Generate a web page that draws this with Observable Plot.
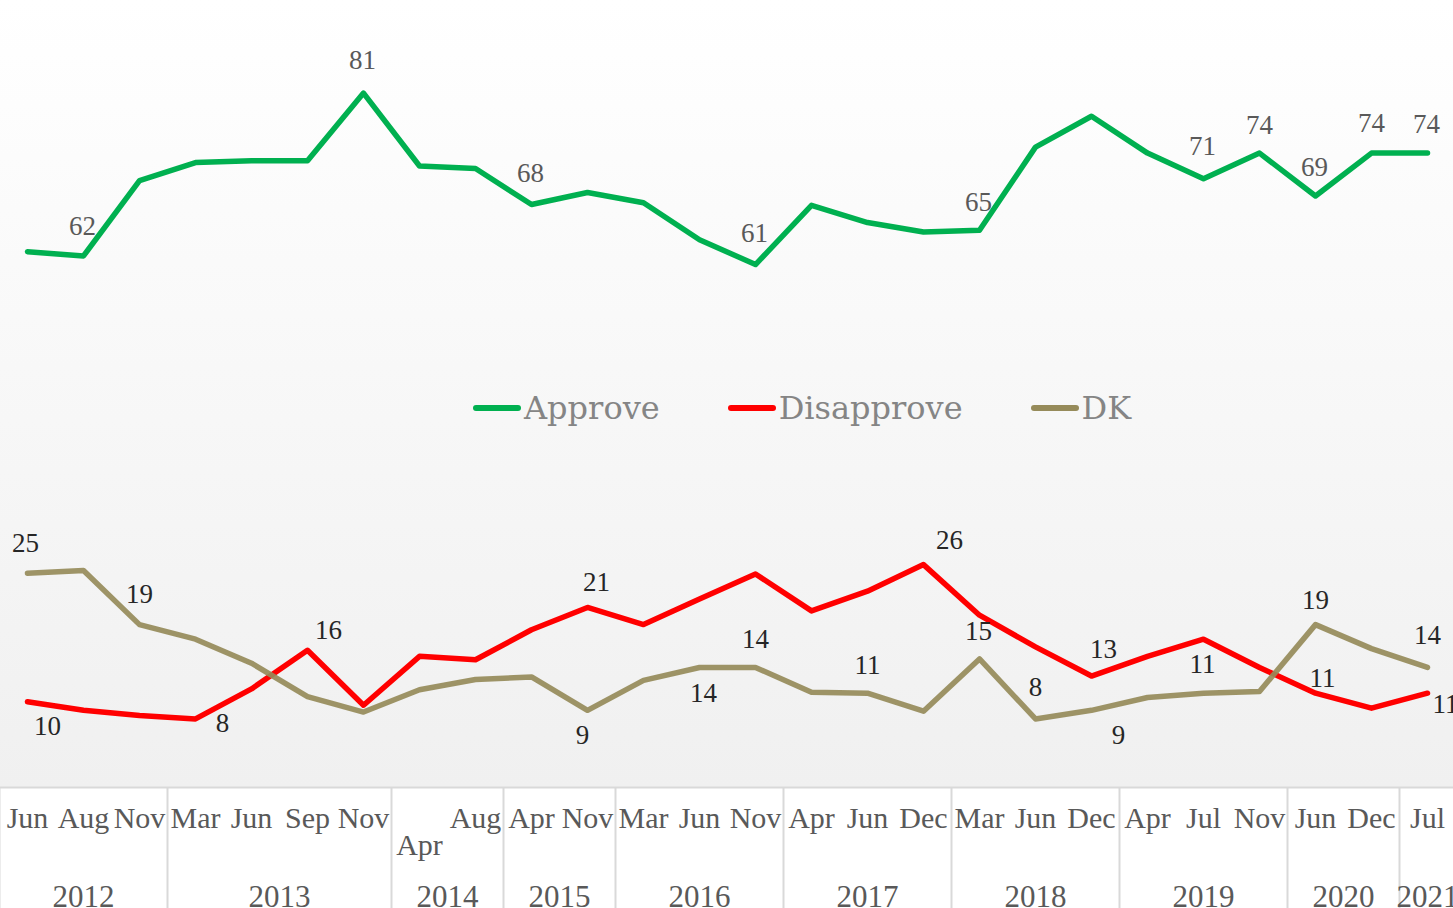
<!DOCTYPE html>
<html>
<head>
<meta charset="utf-8">
<script src="https://cdn.jsdelivr.net/npm/d3@7"></script>
<script src="https://cdn.jsdelivr.net/npm/@observablehq/plot@0.6"></script>
<style>
  html, body { margin: 0; padding: 0; overflow: hidden; background: #ffffff; }
  #chart {
    position: relative;
    width: 1453px;
    height: 908px;
    background: linear-gradient(to bottom, #ffffff 0px, #f0f0f0 787px, #ffffff 787px);
  }
  #legend {
    position: absolute;
    top: 388px;
    left: 473px;
    height: 40px;
    display: flex;
    align-items: center;
    font-family: "DejaVu Serif", serif;
    font-size: 32px;
    line-height: 40px;
    color: #858585;
  }
  #legend .item { display: flex; align-items: center; margin-right: 68px; }
  #legend .swatch { width: 48px; height: 6px; border-radius: 3px; margin-right: 3px; }
</style>
</head>
<body>
<div id="chart"></div>
<script>
// Survey periods (one point per period)
const months = ["Jun","Aug","Nov","Mar","Jun","Sep","Nov","Apr","Aug","Apr","Nov","Mar","Jun","Nov",
                "Apr","Jun","Dec","Mar","Jun","Dec","Apr","Jul","Nov","Jun","Dec","Jul"];
const years  = [2012,2012,2012,2013,2013,2013,2013,2014,2014,2015,2015,2016,2016,2016,
                2017,2017,2017,2018,2018,2018,2019,2019,2019,2020,2020,2021];

// Responses, percent
const approve    = [62.5,62,70.8,72.9,73.1,73.1,81,72.5,72.2,68,69.4,68.2,63.9,61,
                    67.9,65.9,64.8,65,74.7,78.3,74,71,74,69,74,74];
const disapprove = [10,9,8.4,8,11.5,16,9.6,15.3,14.9,18.4,21,19,22,24.9,
                    20.6,22.9,26,20.1,16.4,13,15.3,17.3,14,11,9.25,11];
const dk         = [25,25.3,19,17.3,14.5,10.6,8.8,11.4,12.6,12.9,9,12.5,14,14,
                    11.1,11,8.9,15,8,9,10.5,11,11.2,19,16.2,14];

const seriesNames  = ["Approve", "Disapprove", "DK"];
const seriesColors = ["#00b050", "#ff0000", "#968b5a"];

// Which points carry a value label, and how each label is nudged off its point
const approveLabels = [
  {i: 1, dx: -1, dy: -30}, {i: 6, dx: -1, dy: -33}, {i: 9, dx: -1, dy: -31},
  {i: 13, dx: -1, dy: -31}, {i: 17, dx: -1, dy: -28}, {i: 21, dx: -1, dy: -32},
  {i: 22, dx: 0, dy: -28}, {i: 23, dx: -1, dy: -29}, {i: 24, dx: 0, dy: -30},
  {i: 25, dx: -1, dy: -29}
];
const disapproveLabels = [
  {i: 0, dx: 20, dy: 25}, {i: 3, dx: 27, dy: 4}, {i: 5, dx: 21, dy: -20},
  {i: 10, dx: 9, dy: -25}, {i: 16, dx: 26, dy: -24}, {i: 19, dx: 12, dy: -27},
  {i: 23, dx: 7, dy: -15}, {i: 25, dx: 5, dy: 11, anchor: "start"}
];
const dkLabels = [
  {i: 0, dx: -2, dy: -30}, {i: 2, dx: 0, dy: -30}, {i: 10, dx: -5, dy: 25},
  {i: 12, dx: 4, dy: 26}, {i: 13, dx: 0, dy: -28}, {i: 15, dx: 0, dy: -28},
  {i: 17, dx: -1, dy: -28}, {i: 18, dx: 0, dy: -32}, {i: 19, dx: 27, dy: 25},
  {i: 21, dx: -1, dy: -29}, {i: 23, dx: 0, dy: -24}, {i: 25, dx: 0, dy: -32}
];
// Tick labels that wrap onto a second line
const wrappedTicks = new Set([7]);

const seriesValues = [approve, disapprove, dk];
const rows = seriesNames.flatMap((name, s) =>
  seriesValues[s].map((v, i) => ({series: name, i, value: v})));

const index = months.map((_, i) => i);
const yearList = Array.from(new Set(years));
const yearCenters = yearList.map(y => d3.mean(index.filter(i => years[i] === y)));
// Group separators sit halfway between the last period of one year and the first of the next
const separators = [-0.5, ...index.slice(1).filter(i => years[i] !== years[i - 1]).map(i => i - 0.5)];

function labelMarks(values, placements, fill) {
  return placements.map(p => Plot.text([p], {
    x: d => d.i,
    y: d => values[d.i],
    text: d => String(Math.round(values[d.i])),
    dx: p.dx,
    dy: p.dy,
    textAnchor: p.anchor || "middle",
    fontSize: 27,
    fill
  }));
}

const chart = Plot.plot({
  width: 1453,
  height: 908,
  marginTop: 0,
  marginRight: 0,
  marginBottom: 121,
  marginLeft: 0,
  style: {background: "transparent", fontFamily: "'Liberation Serif', serif", overflow: "hidden"},
  x: {domain: [-0.5, months.length - 0.5], range: [-1, 1455], axis: null, label: null},
  y: {domain: [0, 91.8], axis: null, label: null},
  color: {domain: seriesNames, range: seriesColors},
  marks: [
    Plot.ruleY([0], {stroke: "#d9d9d9", strokeWidth: 2}),
    Plot.axisX(separators, {label: null, tickSize: 121, tickFormat: () => "", stroke: "#d9d9d9", strokeWidth: 2}),
    Plot.axisX(index, {
      label: null, tickSize: 0, tickPadding: 21, fontSize: 30, fill: "#595959", lineHeight: 0.9,
      tickFormat: i => (wrappedTicks.has(i) ? "\n" : "") + months[i]
    }),
    Plot.axisX(yearCenters, {
      label: null, tickSize: 0, tickPadding: 97, fontSize: 31, fill: "#595959",
      tickFormat: (c) => String(yearList[yearCenters.indexOf(c)])
    }),
    Plot.line(rows.filter(d => d.series !== "DK"), {
      x: "i", y: "value", z: "series", stroke: "series",
      strokeWidth: 5.5, strokeLinejoin: "round", strokeLinecap: "round"
    }),
    Plot.line(rows.filter(d => d.series === "DK"), {
      x: "i", y: "value", stroke: "series", strokeOpacity: 0.92,
      strokeWidth: 5.5, strokeLinejoin: "round", strokeLinecap: "round"
    }),
    ...labelMarks(approve, approveLabels, "#595959"),
    ...labelMarks(disapprove, disapproveLabels, "#262626"),
    ...labelMarks(dk, dkLabels, "#262626")
  ]
});

const host = document.getElementById("chart");
host.appendChild(chart);

// Legend laid over the empty band between the two groups of lines
const legend = document.createElement("div");
legend.id = "legend";
seriesNames.forEach((name, s) => {
  const item = document.createElement("div");
  item.className = "item";
  const sw = document.createElement("span");
  sw.className = "swatch";
  sw.style.background = seriesColors[s];
  const label = document.createElement("span");
  label.textContent = name;
  item.append(sw, label);
  legend.appendChild(item);
});
host.appendChild(legend);
</script>
</body>
</html>
